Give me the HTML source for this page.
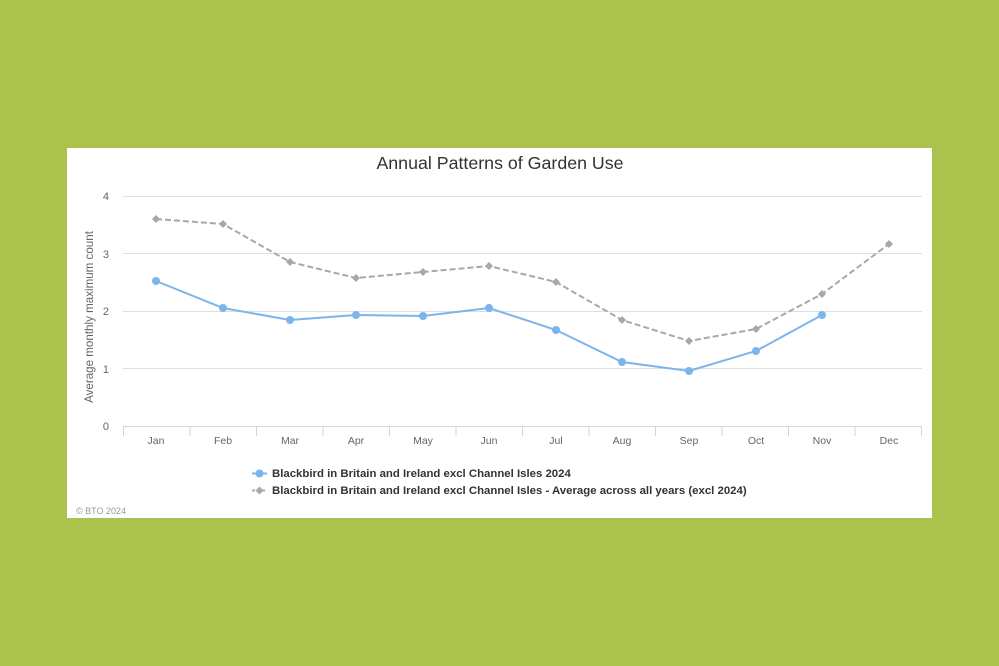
<!DOCTYPE html>
<html><head><style>
html,body{margin:0;padding:0;background:#abc34d;}
svg{display:block;font-family:"Liberation Sans",sans-serif;}
</style></head><body>
<svg width="999" height="666" viewBox="0 0 999 666">
<rect width="999" height="666" fill="#abc34d"/>
<rect x="67" y="148" width="865" height="370" fill="#fff"/>
<text x="500" y="169" text-anchor="middle" font-size="17.8" fill="#333">Annual Patterns of Garden Use</text>
<g stroke="#d8e0e8" stroke-width="1">
<line x1="123" x2="922" y1="196.5" y2="196.5"/>
<line x1="123" x2="922" y1="253.5" y2="253.5"/>
<line x1="123" x2="922" y1="311.5" y2="311.5"/>
<line x1="123" x2="922" y1="368.5" y2="368.5"/>
</g>
<line x1="123" x2="922" y1="426.5" y2="426.5" stroke="#ccd6eb"/>
<g stroke="#ccd6eb">
<line x1="123.5" x2="123.5" y1="426" y2="436"/><line x1="190" x2="190" y1="426" y2="436"/><line x1="256.5" x2="256.5" y1="426" y2="436"/><line x1="323" x2="323" y1="426" y2="436"/><line x1="389.5" x2="389.5" y1="426" y2="436"/><line x1="456" x2="456" y1="426" y2="436"/><line x1="522.5" x2="522.5" y1="426" y2="436"/><line x1="589" x2="589" y1="426" y2="436"/><line x1="655.5" x2="655.5" y1="426" y2="436"/><line x1="722" x2="722" y1="426" y2="436"/><line x1="788.5" x2="788.5" y1="426" y2="436"/><line x1="855" x2="855" y1="426" y2="436"/><line x1="921.5" x2="921.5" y1="426" y2="436"/>
</g>
<g font-size="11" fill="#666" text-anchor="end">
<text x="109" y="200">4</text><text x="109" y="258">3</text><text x="109" y="315">2</text><text x="109" y="373">1</text><text x="109" y="430">0</text>
</g>
<text transform="translate(93,317) rotate(-90)" font-size="11.6" fill="#666" text-anchor="middle">Average monthly maximum count</text>
<g font-size="10.5" fill="#666" text-anchor="middle">
<text x="156" y="444">Jan</text><text x="223" y="444">Feb</text><text x="290" y="444">Mar</text><text x="356" y="444">Apr</text><text x="423" y="444">May</text><text x="489" y="444">Jun</text><text x="556" y="444">Jul</text><text x="622" y="444">Aug</text><text x="689" y="444">Sep</text><text x="756" y="444">Oct</text><text x="822" y="444">Nov</text><text x="889" y="444">Dec</text>
</g>
<polyline fill="none" stroke="#a8a8a8" stroke-width="2" stroke-dasharray="6,3" points="156,219 223,224 290,262 356,278 423,272 489,266 556,282 622,320 689,341 756,329 822,294 889,244"/>
<g fill="#a8a8a8">
<path d="M156,215l4,4-4,4-4-4z"/><path d="M223,220l4,4-4,4-4-4z"/><path d="M290,258l4,4-4,4-4-4z"/><path d="M356,274l4,4-4,4-4-4z"/><path d="M423,268l4,4-4,4-4-4z"/><path d="M489,262l4,4-4,4-4-4z"/><path d="M556,278l4,4-4,4-4-4z"/><path d="M622,316l4,4-4,4-4-4z"/><path d="M689,337l4,4-4,4-4-4z"/><path d="M756,325l4,4-4,4-4-4z"/><path d="M822,290l4,4-4,4-4-4z"/><path d="M889,240l4,4-4,4-4-4z"/>
</g>
<polyline fill="none" stroke="#7cb5ec" stroke-width="2" points="156,281 223,308 290,320 356,315 423,316 489,308 556,330 622,362 689,371 756,351 822,315"/>
<g fill="#7cb5ec">
<circle cx="156" cy="281" r="4"/><circle cx="223" cy="308" r="4"/><circle cx="290" cy="320" r="4"/><circle cx="356" cy="315" r="4"/><circle cx="423" cy="316" r="4"/><circle cx="489" cy="308" r="4"/><circle cx="556" cy="330" r="4"/><circle cx="622" cy="362" r="4"/><circle cx="689" cy="371" r="4"/><circle cx="756" cy="351" r="4"/><circle cx="822" cy="315" r="4"/>
</g>
<line x1="252" x2="267" y1="473.5" y2="473.5" stroke="#7cb5ec" stroke-width="2"/><circle cx="259.5" cy="473.5" r="4" fill="#7cb5ec"/>
<text x="272" y="477" font-size="11.4" font-weight="bold" fill="#333">Blackbird in Britain and Ireland excl Channel Isles 2024</text>
<line x1="252" x2="267" y1="490.5" y2="490.5" stroke="#a8a8a8" stroke-width="2" stroke-dasharray="3,2"/><path d="M259.5,486.5l4,4-4,4-4-4z" fill="#a8a8a8"/>
<text x="272" y="494" font-size="11.4" font-weight="bold" fill="#333">Blackbird in Britain and Ireland excl Channel Isles - Average across all years (excl 2024)</text>
<text x="76" y="514" font-size="9" fill="#999">© BTO 2024</text>
</svg>
</body></html>
